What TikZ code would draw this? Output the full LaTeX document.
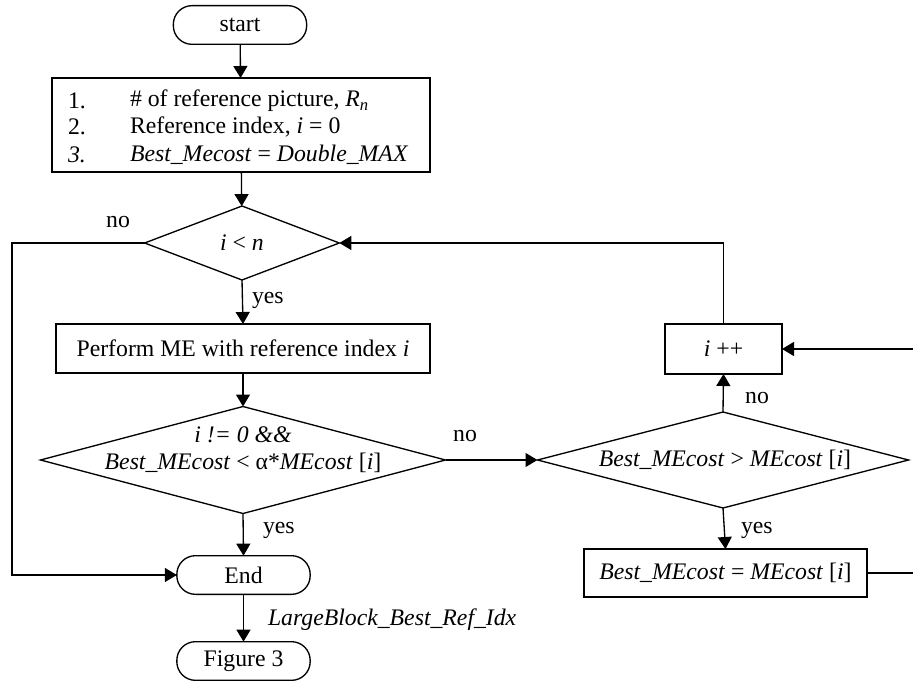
\documentclass[tikz,border=0pt]{standalone}
\usepackage{fontspec}
\setmainfont{Liberation Serif}
\usetikzlibrary{shapes.geometric,arrows.meta}
\begin{document}
\begin{tikzpicture}[x=0.75pt,y=-0.75pt,
  every node/.style={font=\fontsize{17.8}{20}\selectfont, inner sep=0pt, outer sep=0pt},
  term/.style={draw, line width=1pt, rounded corners=14pt, minimum width=100pt, minimum height=29pt},
  procbox/.style={draw, line width=1pt, rectangle},
  decision/.style={draw, line width=1pt, diamond},
  arr/.style={line width=1pt, -{Triangle[length=9pt,width=10.5pt]}},
  plain/.style={line width=1pt},
  lbl/.style={anchor=west}
]
\useasboundingbox (0,0) rectangle (913,681);

% nodes
\node[term] (start) at (240,25) {start};
\node[procbox, minimum width=283.5pt, minimum height=70.5pt] (init) at (241,125) {};
\node[anchor=west] (n1) at (68,101) {1.};
\node[anchor=west] (t1) at (130,101) {\# of reference picture, \textit{R}\textsubscript{\textit{n}}};
\node[anchor=west] (n2) at (68,127) {2.};
\node[anchor=west] (t2) at (130,127) {Reference index, \textit{i} = 0};
\node[anchor=west] (n3) at (68,155) {\textit{3.}};
\node[anchor=west] (t3) at (130,155) {\textit{Best\_Mecost} = \textit{Double\_MAX}};

\node[decision, minimum width=146pt, minimum height=55.5pt] (d1) at (242,243) {};
\node (d1t) at (242,243) {\textit{i} < \textit{n}};

\node[procbox, minimum width=280.5pt, minimum height=36.75pt] (perform) at (243,348.5) {Perform ME with reference index \textit{i}};

\node[decision, minimum width=303.75pt, minimum height=80.25pt] (d2) at (243,460) {};
\node[align=center] (d2t) at (243,450) {\textit{i != 0 \&\&}\\\textit{Best\_MEcost} < α*\textit{MEcost} [\textit{i}]};

\node[term] (end) at (243.5,575) {End};
\node[term] (fig) at (243.5,661) {Figure 3};

\node[decision, minimum width=278.25pt, minimum height=72pt] (d3) at (723,460) {};
\node (d3t) at (725,460) {\textit{Best\_MEcost} > \textit{MEcost} [\textit{i}]};

\node[procbox, minimum width=87.75pt, minimum height=37.5pt] (inc) at (723.5,349) {\textit{i} ++};
\node[procbox, minimum width=212.25pt, minimum height=36pt] (best) at (725.5,573) {\textit{Best\_MEcost} = \textit{MEcost} [\textit{i}]};

\coordinate (rin) at (913,349);
\coordinate (rout) at (913,573);
\coordinate (lft) at (12,243);

% connectors
\draw[arr] (start) -- (init);
\draw[arr] (init) -- (d1);
\draw[arr] (d1.south) -- (perform.north);
\draw[arr] (perform.south) -- (d2.north);
\draw[arr] (d2.south) -- (end.north);
\draw[arr] (end.south) -- (fig.north);
\draw[arr] (d1.west) -- (lft) |- (end.west);
\draw[arr] (d2.east) -- (d3.west);
\draw[arr] (d3.north) -- (inc.south);
\draw[arr] (inc.north) -- (inc.north |- d1.east) -- (d1.east);
\draw[arr] (rin) -- (inc.east);
\draw[arr] (d3.south) -- (best.north);
\draw[plain] (best.east) -- (rout);

% labels
\node (lno1) at (118,222) {no};
\node[lbl] (lyes1) at (252,300) {yes};
\node[lbl] (lyes2) at (263,530) {yes};
\node[lbl] (lout) at (268,620) {\textit{LargeBlock\_Best\_Ref\_Idx}};
\node (lno2) at (465,436) {no};
\node (lno3) at (757,398) {no};
\node[lbl] (lyes3) at (741,530) {yes};
\end{tikzpicture}
\end{document}
